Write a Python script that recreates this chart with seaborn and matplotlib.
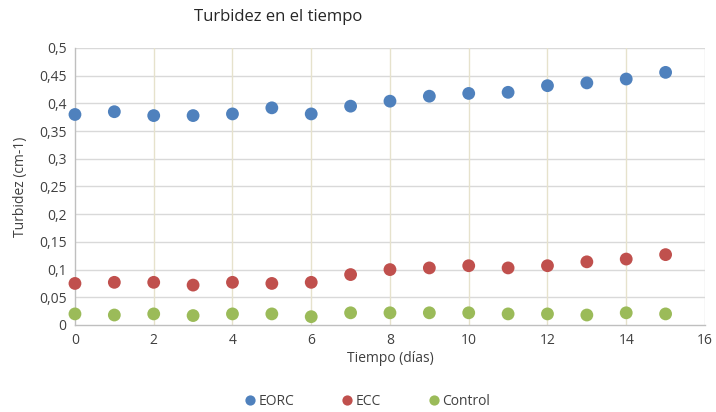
import numpy as np
import pandas as pd
import matplotlib
matplotlib.use("Agg")
import matplotlib.pyplot as plt
import seaborn as sns
from matplotlib.ticker import FuncFormatter

dias = list(range(16))
eorc = [0.380, 0.385, 0.378, 0.378, 0.381, 0.392, 0.381, 0.395, 0.404, 0.413, 0.418, 0.420, 0.432, 0.437, 0.444, 0.456]
ecc = [0.075, 0.077, 0.077, 0.072, 0.077, 0.075, 0.077, 0.091, 0.100, 0.103, 0.107, 0.103, 0.107, 0.114, 0.119, 0.127]
control = [0.020, 0.018, 0.020, 0.017, 0.020, 0.020, 0.015, 0.022, 0.022, 0.022, 0.022, 0.020, 0.020, 0.018, 0.022, 0.020]
series = ["EORC", "ECC", "Control"]
colors = ["#4F81BD", "#C0504D", "#9BBB59"]

df = pd.DataFrame({
    "Tiempo": dias * 3,
    "Turbidez": eorc + ecc + control,
    "Serie": [s for s in series for _ in dias],
})

sns.set_theme(style="white")
plt.rcParams['font.family'] = ['Open Sans', 'DejaVu Sans']

fig = plt.figure(figsize=(7.16, 4.12), dpi=100)
ax = fig.add_axes([0.1047, 0.2112, 0.8799, 0.6723])

sns.scatterplot(data=df, x="Tiempo", y="Turbidez", hue="Serie", hue_order=series,
                palette=colors, s=85, edgecolor="none", ax=ax, zorder=3, clip_on=False)

ax.set_xlim(0, 16)
ax.set_ylim(0, 0.5)
ax.set_xticks(np.arange(0, 17, 2))
ax.set_yticks(np.arange(0, 0.501, 0.05))
ax.yaxis.set_major_formatter(FuncFormatter(lambda v, p: ("%g" % round(v, 2)).replace(".", ",")))

for y in np.arange(0.05, 0.501, 0.05):
    ax.axhline(y, color="#d9d9d9", lw=1, zorder=1)
for x in range(2, 16, 2):
    ax.axvline(x, color="#e6e2cc", lw=1, zorder=1)
ax.axvline(16, color="#d9d9d9", lw=1, zorder=1)

for side in ["top", "right"]:
    ax.spines[side].set_visible(False)
for side in ["left", "bottom"]:
    ax.spines[side].set_color("#bfbfbf")
    ax.spines[side].set_linewidth(1)

ax.tick_params(axis="both", labelsize=10, colors="#404040", length=0, pad=6)
ax.set_xlabel("Tiempo (días)", fontsize=10, color="#404040", labelpad=2)
ax.set_ylabel("Turbidez (cm-1)", fontsize=10, color="#404040", labelpad=8)

fig.text(0.389, 0.958, "Turbidez en el tiempo", fontsize=12, color="#262626",
         ha="center", va="center")

handles, labels = ax.get_legend_handles_labels()
ax.legend(handles, labels, loc="center", bbox_to_anchor=(0.511, 0.026), bbox_transform=fig.transFigure,
          ncol=3, frameon=False, fontsize=10, columnspacing=3.2, handletextpad=0.0,
          handlelength=1.2, markerscale=0.8, labelcolor="#404040")

fig.savefig("out.png", dpi=100)
